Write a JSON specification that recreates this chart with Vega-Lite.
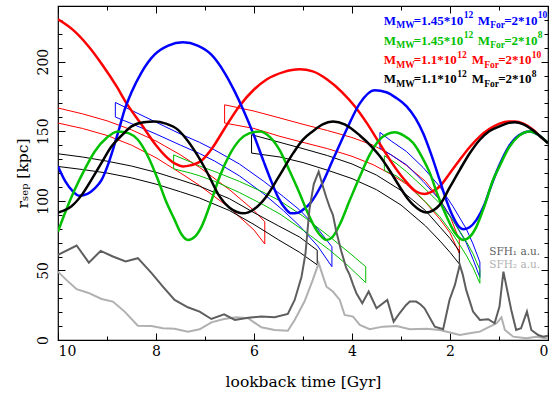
{
"$schema": "https://vega.github.io/schema/vega-lite/v6.json",
"width": 490, "height": 334,
"autosize": {"type": "none"},
"padding": {"left": 58, "top": 6, "right": 9, "bottom": 57},
"config": {
  "view": {"stroke": "black", "strokeWidth": 1.2},
  "axis": {"tickColor": "black", "labelColor": "black", "titleColor": "black", "labelFont": "DejaVu Serif", "titleFont": "DejaVu Serif", "labelFontSize": 14, "titleFontSize": 15.5, "titleFontWeight": "normal", "tickWidth": 1, "grid": false, "domain": false}
},
"resolve": {"axis": {"x": "independent", "y": "independent"}},
"datasets": {
"thick": [
{"c":"red","t":10,"r":230.4},{"c":"red","t":9.7,"r":223},{"c":"red","t":9.4,"r":212},{"c":"red","t":9.1,"r":198},{"c":"red","t":8.8,"r":182},{"c":"red","t":8.6,"r":170},{"c":"red","t":8.3,"r":155},{"c":"red","t":8.0,"r":140},{"c":"red","t":7.8,"r":132},{"c":"red","t":7.6,"r":126.5},{"c":"red","t":7.45,"r":124.7},{"c":"red","t":7.3,"r":125.5},{"c":"red","t":7.07,"r":129},{"c":"red","t":6.85,"r":138},{"c":"red","t":6.6,"r":152},{"c":"red","t":6.3,"r":168},{"c":"red","t":6.0,"r":180},{"c":"red","t":5.75,"r":187},{"c":"red","t":5.4,"r":192.5},{"c":"red","t":5.07,"r":194.5},{"c":"red","t":4.8,"r":193},{"c":"red","t":4.5,"r":187},{"c":"red","t":4.2,"r":178},{"c":"red","t":3.94,"r":167.8},{"c":"red","t":3.7,"r":156},{"c":"red","t":3.45,"r":142},{"c":"red","t":3.2,"r":128},{"c":"red","t":2.95,"r":116},{"c":"red","t":2.69,"r":106.7},{"c":"red","t":2.52,"r":105},{"c":"red","t":2.35,"r":107},{"c":"red","t":2.21,"r":110.3},{"c":"red","t":2.0,"r":120},{"c":"red","t":1.8,"r":129.5},{"c":"red","t":1.6,"r":138.5},{"c":"red","t":1.39,"r":146.3},{"c":"red","t":1.2,"r":151.5},{"c":"red","t":0.99,"r":155.5},{"c":"red","t":0.8,"r":157},{"c":"red","t":0.68,"r":157},{"c":"red","t":0.5,"r":155.5},{"c":"red","t":0.3,"r":151},{"c":"red","t":0.15,"r":146},{"c":"red","t":0,"r":141.5},
{"c":"blue","t":10,"r":124.7},{"c":"blue","t":9.85,"r":114},{"c":"blue","t":9.7,"r":107},{"c":"blue","t":9.56,"r":103.6},{"c":"blue","t":9.4,"r":105},{"c":"blue","t":9.25,"r":109},{"c":"blue","t":9.11,"r":115},{"c":"blue","t":9.0,"r":124},{"c":"blue","t":8.88,"r":136.7},{"c":"blue","t":8.75,"r":152},{"c":"blue","t":8.64,"r":165.5},{"c":"blue","t":8.5,"r":178},{"c":"blue","t":8.3,"r":192},{"c":"blue","t":8.03,"r":205},{"c":"blue","t":7.75,"r":211.5},{"c":"blue","t":7.45,"r":213.9},{"c":"blue","t":7.15,"r":211.5},{"c":"blue","t":6.87,"r":205},{"c":"blue","t":6.6,"r":192},{"c":"blue","t":6.4,"r":179},{"c":"blue","t":6.22,"r":165.5},{"c":"blue","t":6.0,"r":147},{"c":"blue","t":5.8,"r":128},{"c":"blue","t":5.68,"r":117},{"c":"blue","t":5.5,"r":102},{"c":"blue","t":5.35,"r":94},{"c":"blue","t":5.24,"r":91},{"c":"blue","t":5.1,"r":91.5},{"c":"blue","t":4.95,"r":95},{"c":"blue","t":4.86,"r":98},{"c":"blue","t":4.6,"r":113},{"c":"blue","t":4.39,"r":129.5},{"c":"blue","t":4.1,"r":152},{"c":"blue","t":3.84,"r":170},{"c":"blue","t":3.54,"r":179.4},{"c":"blue","t":3.3,"r":178},{"c":"blue","t":3.1,"r":174},{"c":"blue","t":2.89,"r":168},{"c":"blue","t":2.7,"r":159},{"c":"blue","t":2.55,"r":148.7},{"c":"blue","t":2.4,"r":135},{"c":"blue","t":2.21,"r":115},{"c":"blue","t":2.07,"r":100},{"c":"blue","t":1.94,"r":88.7},{"c":"blue","t":1.82,"r":81.5},{"c":"blue","t":1.72,"r":79.6},{"c":"blue","t":1.6,"r":81},{"c":"blue","t":1.46,"r":86.3},{"c":"blue","t":1.3,"r":97},{"c":"blue","t":1.19,"r":107.9},{"c":"blue","t":1.0,"r":125},{"c":"blue","t":0.8,"r":139},{"c":"blue","t":0.6,"r":147},{"c":"blue","t":0.37,"r":149.9},{"c":"blue","t":0.2,"r":147.5},{"c":"blue","t":0,"r":141.5},
{"c":"green","t":10,"r":77.9},{"c":"green","t":9.85,"r":92},{"c":"green","t":9.66,"r":107.9},{"c":"green","t":9.45,"r":123},{"c":"green","t":9.25,"r":135.5},{"c":"green","t":9.0,"r":145.5},{"c":"green","t":8.78,"r":149.9},{"c":"green","t":8.55,"r":148.5},{"c":"green","t":8.37,"r":143.9},{"c":"green","t":8.15,"r":131},{"c":"green","t":7.96,"r":115.1},{"c":"green","t":7.8,"r":100},{"c":"green","t":7.62,"r":86.3},{"c":"green","t":7.48,"r":76},{"c":"green","t":7.35,"r":71.9},{"c":"green","t":7.2,"r":74.5},{"c":"green","t":7.07,"r":81.5},{"c":"green","t":6.9,"r":97},{"c":"green","t":6.7,"r":117.5},{"c":"green","t":6.5,"r":133},{"c":"green","t":6.29,"r":143.9},{"c":"green","t":6.1,"r":148.5},{"c":"green","t":5.88,"r":149.9},{"c":"green","t":5.68,"r":146},{"c":"green","t":5.48,"r":136.7},{"c":"green","t":5.28,"r":122},{"c":"green","t":5.07,"r":105.5},{"c":"green","t":4.9,"r":91},{"c":"green","t":4.73,"r":79.1},{"c":"green","t":4.6,"r":73.5},{"c":"green","t":4.52,"r":71.9},{"c":"green","t":4.4,"r":74},{"c":"green","t":4.25,"r":83},{"c":"green","t":4.05,"r":100},{"c":"green","t":3.84,"r":117.5},{"c":"green","t":3.64,"r":133},{"c":"green","t":3.44,"r":143.9},{"c":"green","t":3.28,"r":148},{"c":"green","t":3.13,"r":149.2},{"c":"green","t":2.95,"r":147},{"c":"green","t":2.75,"r":141.5},{"c":"green","t":2.58,"r":132},{"c":"green","t":2.41,"r":119.9},{"c":"green","t":2.25,"r":104},{"c":"green","t":2.07,"r":88.7},{"c":"green","t":1.9,"r":77},{"c":"green","t":1.73,"r":71.9},{"c":"green","t":1.6,"r":74},{"c":"green","t":1.46,"r":81.5},{"c":"green","t":1.3,"r":96},{"c":"green","t":1.12,"r":115.1},{"c":"green","t":0.99,"r":124.7},{"c":"green","t":0.8,"r":138},{"c":"green","t":0.6,"r":146.5},{"c":"green","t":0.37,"r":149.9},{"c":"green","t":0.2,"r":147.5},{"c":"green","t":0,"r":141.5},
{"c":"black","t":10,"r":91.6},{"c":"black","t":9.85,"r":93.5},{"c":"black","t":9.73,"r":96},{"c":"black","t":9.5,"r":105},{"c":"black","t":9.32,"r":115},{"c":"black","t":9.1,"r":128},{"c":"black","t":8.91,"r":139},{"c":"black","t":8.7,"r":147},{"c":"black","t":8.5,"r":153.5},{"c":"black","t":8.25,"r":156.5},{"c":"black","t":8.03,"r":157},{"c":"black","t":7.8,"r":155.5},{"c":"black","t":7.55,"r":151},{"c":"black","t":7.35,"r":143},{"c":"black","t":7.14,"r":131.9},{"c":"black","t":6.95,"r":120},{"c":"black","t":6.7,"r":103},{"c":"black","t":6.5,"r":95},{"c":"black","t":6.35,"r":92},{"c":"black","t":6.22,"r":91},{"c":"black","t":6.0,"r":94},{"c":"black","t":5.75,"r":103},{"c":"black","t":5.5,"r":117},{"c":"black","t":5.2,"r":134.3},{"c":"black","t":5.0,"r":144},{"c":"black","t":4.8,"r":150},{"c":"black","t":4.6,"r":155},{"c":"black","t":4.39,"r":157},{"c":"black","t":4.15,"r":155},{"c":"black","t":3.84,"r":147},{"c":"black","t":3.6,"r":139},{"c":"black","t":3.43,"r":132},{"c":"black","t":3.2,"r":120},{"c":"black","t":3.03,"r":110.3},{"c":"black","t":2.85,"r":101},{"c":"black","t":2.75,"r":97.1},{"c":"black","t":2.6,"r":93},{"c":"black","t":2.48,"r":91.6},{"c":"black","t":2.35,"r":93},{"c":"black","t":2.21,"r":97.1},{"c":"black","t":2.0,"r":110},{"c":"black","t":1.8,"r":122.3},{"c":"black","t":1.6,"r":134},{"c":"black","t":1.39,"r":143.9},{"c":"black","t":1.2,"r":150},{"c":"black","t":0.99,"r":153.5},{"c":"black","t":0.8,"r":156},{"c":"black","t":0.68,"r":156.5},{"c":"black","t":0.5,"r":155},{"c":"black","t":0.3,"r":150.5},{"c":"black","t":0.15,"r":146},{"c":"black","t":0,"r":141.5}
],
"thin": [
{"c":"red","s":"R1","t":10,"r":166.7},{"c":"red","s":"R1","t":9.5,"r":162.5},{"c":"red","s":"R1","t":9,"r":157.5},{"c":"red","s":"R1","t":8.5,"r":151},{"c":"red","s":"R1","t":8,"r":143},{"c":"red","s":"R1","t":7.5,"r":133},{"c":"red","s":"R1","t":7.11,"r":124},{"c":"red","s":"R1","t":6.5,"r":108},{"c":"red","s":"R1","t":6,"r":93},{"c":"red","s":"R1","t":5.78,"r":85},{"c":"red","s":"R1","t":5.78,"r":69},{"c":"red","s":"R1","t":6,"r":79},{"c":"red","s":"R1","t":6.5,"r":95},{"c":"red","s":"R1","t":7.11,"r":111},{"c":"red","s":"R1","t":7.5,"r":120},{"c":"red","s":"R1","t":8,"r":131},{"c":"red","s":"R1","t":8.5,"r":140},{"c":"red","s":"R1","t":9,"r":147},{"c":"red","s":"R1","t":9.5,"r":152},{"c":"red","s":"R1","t":10,"r":155.9},
{"c":"red","s":"R2","t":6.6,"r":169},{"c":"red","s":"R2","t":6.0,"r":164.5},{"c":"red","s":"R2","t":5.47,"r":159.5},{"c":"red","s":"R2","t":5.0,"r":155},{"c":"red","s":"R2","t":4.5,"r":150.5},{"c":"red","s":"R2","t":4.0,"r":145.5},{"c":"red","s":"R2","t":3.57,"r":140},{"c":"red","s":"R2","t":3.2,"r":133},{"c":"red","s":"R2","t":2.89,"r":125.5},{"c":"red","s":"R2","t":2.5,"r":114},{"c":"red","s":"R2","t":2.21,"r":101},{"c":"red","s":"R2","t":2.0,"r":89},{"c":"red","s":"R2","t":1.81,"r":72},{"c":"red","s":"R2","t":1.81,"r":62.4},{"c":"red","s":"R2","t":2.0,"r":77},{"c":"red","s":"R2","t":2.21,"r":87},{"c":"red","s":"R2","t":2.5,"r":99},{"c":"red","s":"R2","t":2.89,"r":112},{"c":"red","s":"R2","t":3.2,"r":119},{"c":"red","s":"R2","t":3.57,"r":126},{"c":"red","s":"R2","t":4.0,"r":132},{"c":"red","s":"R2","t":4.5,"r":137.5},{"c":"red","s":"R2","t":5.0,"r":142},{"c":"red","s":"R2","t":5.47,"r":146.3},{"c":"red","s":"R2","t":6.0,"r":152},{"c":"red","s":"R2","t":6.6,"r":155.9},{"c":"red","s":"R2","t":6.6,"r":169},
{"c":"black","s":"K1","t":10,"r":133.8},{"c":"black","s":"K1","t":9.5,"r":131.5},{"c":"black","s":"K1","t":9,"r":128.5},{"c":"black","s":"K1","t":8.5,"r":125},{"c":"black","s":"K1","t":8,"r":120.5},{"c":"black","s":"K1","t":7.5,"r":115},{"c":"black","s":"K1","t":7.11,"r":110.5},{"c":"black","s":"K1","t":6.5,"r":101.5},{"c":"black","s":"K1","t":6,"r":91.5},{"c":"black","s":"K1","t":5.5,"r":82},{"c":"black","s":"K1","t":5.07,"r":74},{"c":"black","s":"K1","t":4.71,"r":64.5},{"c":"black","s":"K1","t":4.71,"r":54},{"c":"black","s":"K1","t":5.07,"r":63},{"c":"black","s":"K1","t":5.5,"r":72},{"c":"black","s":"K1","t":6,"r":83},{"c":"black","s":"K1","t":6.5,"r":93},{"c":"black","s":"K1","t":7.11,"r":102},{"c":"black","s":"K1","t":7.5,"r":106.5},{"c":"black","s":"K1","t":8,"r":112},{"c":"black","s":"K1","t":8.5,"r":116.5},{"c":"black","s":"K1","t":9,"r":120},{"c":"black","s":"K1","t":9.5,"r":122.5},{"c":"black","s":"K1","t":10,"r":124.7},
{"c":"black","s":"K2","t":6.05,"r":147.5},{"c":"black","s":"K2","t":5.47,"r":142},{"c":"black","s":"K2","t":5.0,"r":137.5},{"c":"black","s":"K2","t":4.5,"r":132.5},{"c":"black","s":"K2","t":4.0,"r":126.5},{"c":"black","s":"K2","t":3.5,"r":118.5},{"c":"black","s":"K2","t":3.0,"r":107.5},{"c":"black","s":"K2","t":2.5,"r":93},{"c":"black","s":"K2","t":2.2,"r":81},{"c":"black","s":"K2","t":2.0,"r":73},{"c":"black","s":"K2","t":1.81,"r":64},{"c":"black","s":"K2","t":1.81,"r":54.7},{"c":"black","s":"K2","t":2.0,"r":63},{"c":"black","s":"K2","t":2.2,"r":71},{"c":"black","s":"K2","t":2.5,"r":82},{"c":"black","s":"K2","t":3.0,"r":97},{"c":"black","s":"K2","t":3.5,"r":108},{"c":"black","s":"K2","t":4.0,"r":116},{"c":"black","s":"K2","t":4.5,"r":122},{"c":"black","s":"K2","t":5.0,"r":127.5},{"c":"black","s":"K2","t":5.47,"r":131.5},{"c":"black","s":"K2","t":6.05,"r":134.3},{"c":"black","s":"K2","t":6.05,"r":147.5},
{"c":"blue","s":"B1","t":8.83,"r":170.7},{"c":"blue","s":"B1","t":8.5,"r":165},{"c":"blue","s":"B1","t":8,"r":156.5},{"c":"blue","s":"B1","t":7.5,"r":148},{"c":"blue","s":"B1","t":7.11,"r":142},{"c":"blue","s":"B1","t":6.8,"r":136.5},{"c":"blue","s":"B1","t":6.3,"r":126.5},{"c":"blue","s":"B1","t":5.8,"r":114},{"c":"blue","s":"B1","t":5.4,"r":103},{"c":"blue","s":"B1","t":5.07,"r":93.5},{"c":"blue","s":"B1","t":4.7,"r":80},{"c":"blue","s":"B1","t":4.41,"r":67},{"c":"blue","s":"B1","t":4.41,"r":52.7},{"c":"blue","s":"B1","t":4.7,"r":67.5},{"c":"blue","s":"B1","t":5.07,"r":82},{"c":"blue","s":"B1","t":5.4,"r":93},{"c":"blue","s":"B1","t":5.8,"r":105},{"c":"blue","s":"B1","t":6.3,"r":118},{"c":"blue","s":"B1","t":6.8,"r":128.5},{"c":"blue","s":"B1","t":7.11,"r":134},{"c":"blue","s":"B1","t":7.5,"r":140},{"c":"blue","s":"B1","t":8,"r":148},{"c":"blue","s":"B1","t":8.5,"r":155.5},{"c":"blue","s":"B1","t":8.83,"r":160.2},{"c":"blue","s":"B1","t":8.83,"r":170.7},
{"c":"green","s":"G1","t":7.64,"r":133},{"c":"green","s":"G1","t":7.3,"r":128},{"c":"green","s":"G1","t":7.11,"r":125},{"c":"green","s":"G1","t":6.8,"r":121},{"c":"green","s":"G1","t":6.3,"r":114},{"c":"green","s":"G1","t":5.8,"r":106},{"c":"green","s":"G1","t":5.47,"r":100},{"c":"green","s":"G1","t":5.0,"r":89},{"c":"green","s":"G1","t":4.46,"r":74.3},{"c":"green","s":"G1","t":4.1,"r":64},{"c":"green","s":"G1","t":3.72,"r":52.7},{"c":"green","s":"G1","t":3.72,"r":41.2},{"c":"green","s":"G1","t":4.1,"r":54},{"c":"green","s":"G1","t":4.46,"r":64.7},{"c":"green","s":"G1","t":5.0,"r":79},{"c":"green","s":"G1","t":5.47,"r":90.5},{"c":"green","s":"G1","t":5.8,"r":97},{"c":"green","s":"G1","t":6.3,"r":106},{"c":"green","s":"G1","t":6.8,"r":114},{"c":"green","s":"G1","t":7.11,"r":118},{"c":"green","s":"G1","t":7.3,"r":120},{"c":"green","s":"G1","t":7.64,"r":123},{"c":"green","s":"G1","t":7.64,"r":133},
{"c":"blue","s":"B2","t":3.43,"r":149.2},{"c":"blue","s":"B2","t":3.2,"r":143},{"c":"blue","s":"B2","t":2.89,"r":135.5},{"c":"blue","s":"B2","t":2.55,"r":124},{"c":"blue","s":"B2","t":2.21,"r":110.3},{"c":"blue","s":"B2","t":1.94,"r":96},{"c":"blue","s":"B2","t":1.67,"r":80},{"c":"blue","s":"B2","t":1.53,"r":69},{"c":"blue","s":"B2","t":1.39,"r":56},{"c":"blue","s":"B2","t":1.39,"r":45},{"c":"blue","s":"B2","t":1.53,"r":58},{"c":"blue","s":"B2","t":1.67,"r":70},{"c":"blue","s":"B2","t":1.94,"r":86},{"c":"blue","s":"B2","t":2.21,"r":100.7},{"c":"blue","s":"B2","t":2.55,"r":114},{"c":"blue","s":"B2","t":2.89,"r":125.9},{"c":"blue","s":"B2","t":3.2,"r":133},{"c":"blue","s":"B2","t":3.43,"r":138},{"c":"blue","s":"B2","t":3.43,"r":149.2},
{"c":"green","s":"G2","t":3.34,"r":132.4},{"c":"green","s":"G2","t":3.1,"r":127},{"c":"green","s":"G2","t":2.89,"r":121},{"c":"green","s":"G2","t":2.55,"r":110},{"c":"green","s":"G2","t":2.21,"r":98.3},{"c":"green","s":"G2","t":1.94,"r":86},{"c":"green","s":"G2","t":1.67,"r":71},{"c":"green","s":"G2","t":1.53,"r":62},{"c":"green","s":"G2","t":1.39,"r":50.4},{"c":"green","s":"G2","t":1.39,"r":40.8},{"c":"green","s":"G2","t":1.53,"r":52},{"c":"green","s":"G2","t":1.67,"r":61},{"c":"green","s":"G2","t":1.94,"r":76},{"c":"green","s":"G2","t":2.21,"r":88.7},{"c":"green","s":"G2","t":2.55,"r":101},{"c":"green","s":"G2","t":2.89,"r":112.7},{"c":"green","s":"G2","t":3.1,"r":118},{"c":"green","s":"G2","t":3.34,"r":121.8},{"c":"green","s":"G2","t":3.34,"r":132.4}
],
"sfh": [
{"c":"sfh2","t":10,"r":49.1},{"c":"sfh2","t":9.83,"r":43.2},{"c":"sfh2","t":9.62,"r":36.5},{"c":"sfh2","t":9.39,"r":34},{"c":"sfh2","t":9.11,"r":29.5},{"c":"sfh2","t":8.88,"r":27.6},{"c":"sfh2","t":8.64,"r":20.4},{"c":"sfh2","t":8.37,"r":10.3},{"c":"sfh2","t":8.09,"r":10.1},{"c":"sfh2","t":7.86,"r":8.4},{"c":"sfh2","t":7.62,"r":8.1},{"c":"sfh2","t":7.35,"r":6},{"c":"sfh2","t":7.11,"r":7.7},{"c":"sfh2","t":6.87,"r":12.7},{"c":"sfh2","t":6.61,"r":15.1},{"c":"sfh2","t":6.36,"r":16.3},{"c":"sfh2","t":6.12,"r":15.6},{"c":"sfh2","t":5.85,"r":9.1},{"c":"sfh2","t":5.58,"r":7.2},{"c":"sfh2","t":5.31,"r":6.7},{"c":"sfh2","t":5.17,"r":14.4},{"c":"sfh2","t":4.97,"r":27.6},{"c":"sfh2","t":4.8,"r":43.2},{"c":"sfh2","t":4.68,"r":55.2},{"c":"sfh2","t":4.59,"r":45.5},{"c":"sfh2","t":4.52,"r":38.3},{"c":"sfh2","t":4.39,"r":34.8},{"c":"sfh2","t":4.25,"r":28.8},{"c":"sfh2","t":4.15,"r":18},{"c":"sfh2","t":3.98,"r":16.8},{"c":"sfh2","t":3.84,"r":10.8},{"c":"sfh2","t":3.64,"r":7.7},{"c":"sfh2","t":3.37,"r":9.6},{"c":"sfh2","t":3.09,"r":10.1},{"c":"sfh2","t":2.82,"r":7.7},{"c":"sfh2","t":2.48,"r":8.1},{"c":"sfh2","t":2.21,"r":7.2},{"c":"sfh2","t":1.94,"r":4.8},{"c":"sfh2","t":1.8,"r":3.6},{"c":"sfh2","t":1.6,"r":4.8},{"c":"sfh2","t":1.39,"r":6},{"c":"sfh2","t":1.19,"r":9.6},{"c":"sfh2","t":1.05,"r":12},{"c":"sfh2","t":0.95,"r":16.3},{"c":"sfh2","t":0.88,"r":7.2},{"c":"sfh2","t":0.71,"r":2.4},{"c":"sfh2","t":0.44,"r":1.2},{"c":"sfh2","t":0.24,"r":2.4},{"c":"sfh2","t":0,"r":1},
{"c":"sfh1","t":10,"r":61.2},{"c":"sfh1","t":9.62,"r":67.9},{"c":"sfh1","t":9.37,"r":55.6},{"c":"sfh1","t":9.13,"r":64},{"c":"sfh1","t":8.88,"r":60},{"c":"sfh1","t":8.62,"r":56.4},{"c":"sfh1","t":8.37,"r":58.8},{"c":"sfh1","t":8.09,"r":48},{"c":"sfh1","t":7.86,"r":38.4},{"c":"sfh1","t":7.62,"r":28.8},{"c":"sfh1","t":7.35,"r":23.5},{"c":"sfh1","t":7.11,"r":20.4},{"c":"sfh1","t":6.87,"r":15.1},{"c":"sfh1","t":6.61,"r":18.5},{"c":"sfh1","t":6.39,"r":14.4},{"c":"sfh1","t":6.12,"r":16},{"c":"sfh1","t":5.85,"r":16.8},{"c":"sfh1","t":5.58,"r":16.3},{"c":"sfh1","t":5.31,"r":18.7},{"c":"sfh1","t":5.17,"r":28.8},{"c":"sfh1","t":5.03,"r":45.5},{"c":"sfh1","t":4.95,"r":62},{"c":"sfh1","t":4.87,"r":93.5},{"c":"sfh1","t":4.78,"r":112},{"c":"sfh1","t":4.68,"r":121},{"c":"sfh1","t":4.59,"r":110},{"c":"sfh1","t":4.52,"r":102},{"c":"sfh1","t":4.45,"r":95},{"c":"sfh1","t":4.39,"r":90},{"c":"sfh1","t":4.32,"r":78},{"c":"sfh1","t":4.22,"r":64},{"c":"sfh1","t":4.12,"r":52},{"c":"sfh1","t":4.05,"r":47},{"c":"sfh1","t":3.98,"r":40},{"c":"sfh1","t":3.91,"r":33.5},{"c":"sfh1","t":3.79,"r":26.4},{"c":"sfh1","t":3.66,"r":34.8},{"c":"sfh1","t":3.5,"r":22.8},{"c":"sfh1","t":3.28,"r":28.8},{"c":"sfh1","t":3.15,"r":13.2},{"c":"sfh1","t":3.03,"r":19.2},{"c":"sfh1","t":2.9,"r":25},{"c":"sfh1","t":2.82,"r":27.6},{"c":"sfh1","t":2.69,"r":27.6},{"c":"sfh1","t":2.6,"r":25.5},{"c":"sfh1","t":2.52,"r":22.8},{"c":"sfh1","t":2.31,"r":9.6},{"c":"sfh1","t":2.14,"r":7.7},{"c":"sfh1","t":2.01,"r":28.8},{"c":"sfh1","t":1.9,"r":39.6},{"c":"sfh1","t":1.8,"r":54},{"c":"sfh1","t":1.74,"r":47},{"c":"sfh1","t":1.67,"r":36},{"c":"sfh1","t":1.53,"r":20.4},{"c":"sfh1","t":1.39,"r":14.4},{"c":"sfh1","t":1.22,"r":14.9},{"c":"sfh1","t":1.09,"r":12},{"c":"sfh1","t":0.99,"r":24},{"c":"sfh1","t":0.91,"r":49.1},{"c":"sfh1","t":0.82,"r":33.6},{"c":"sfh1","t":0.75,"r":21.6},{"c":"sfh1","t":0.65,"r":7.2},{"c":"sfh1","t":0.55,"r":8.4},{"c":"sfh1","t":0.43,"r":20.4},{"c":"sfh1","t":0.34,"r":7.2},{"c":"sfh1","t":0.2,"r":3.6},{"c":"sfh1","t":0.1,"r":2.4},{"c":"sfh1","t":0,"r":3}
],
"leg": [
{"c":"blue","k":"main","txt":"M","t":3.353,"r":226.3},{"c":"blue","k":"sub","txt":"MW","t":3.098,"r":223.9},{"c":"blue","k":"main","txt":"=1.45*10","t":2.741,"r":226.3},{"c":"blue","k":"sup","txt":"12","t":1.72,"r":231.1},{"c":"blue","k":"main","txt":"M","t":1.435,"r":226.3},{"c":"blue","k":"sub","txt":"For","t":1.18,"r":223.9},{"c":"blue","k":"main","txt":"=2*10","t":0.894,"r":226.3},{"c":"blue","k":"sup","txt":"10","t":0.21,"r":231.1},
{"c":"green","k":"main","txt":"M","t":3.353,"r":212.3},{"c":"green","k":"sub","txt":"MW","t":3.098,"r":209.9},{"c":"green","k":"main","txt":"=1.45*10","t":2.741,"r":212.3},{"c":"green","k":"sup","txt":"12","t":1.72,"r":217.1},{"c":"green","k":"main","txt":"M","t":1.435,"r":212.3},{"c":"green","k":"sub","txt":"For","t":1.18,"r":209.9},{"c":"green","k":"main","txt":"=2*10","t":0.894,"r":212.3},{"c":"green","k":"sup","txt":"8","t":0.21,"r":217.1},
{"c":"red","k":"main","txt":"M","t":3.353,"r":198.1},{"c":"red","k":"sub","txt":"MW","t":3.098,"r":195.7},{"c":"red","k":"main","txt":"=1.1*10","t":2.741,"r":198.1},{"c":"red","k":"sup","txt":"12","t":1.853,"r":202.9},{"c":"red","k":"main","txt":"M","t":1.557,"r":198.1},{"c":"red","k":"sub","txt":"For","t":1.302,"r":195.7},{"c":"red","k":"main","txt":"=2*10","t":1.016,"r":198.1},{"c":"red","k":"sup","txt":"10","t":0.333,"r":202.9},
{"c":"black","k":"main","txt":"M","t":3.353,"r":184.5},{"c":"black","k":"sub","txt":"MW","t":3.098,"r":182.1},{"c":"black","k":"main","txt":"=1.1*10","t":2.741,"r":184.5},{"c":"black","k":"sup","txt":"12","t":1.853,"r":189.3},{"c":"black","k":"main","txt":"M","t":1.557,"r":184.5},{"c":"black","k":"sub","txt":"For","t":1.302,"r":182.1},{"c":"black","k":"main","txt":"=2*10","t":1.016,"r":184.5},{"c":"black","k":"sup","txt":"8","t":0.333,"r":189.3}
],
"sfhlab": [
{"c":"sfh1","txt":"SFH₁ a.u.","t":1.2,"r":61.1},
{"c":"sfh2","txt":"SFH₂ a.u.","t":1.2,"r":51.8}
]
},
"layer": [
{
 "data": {"name": "thin"},
 "mark": {"type": "line", "strokeWidth": 1, "clip": true},
 "encoding": {
  "x": {"field": "t", "type": "quantitative", "scale": {"domain": [0, 10], "reverse": true, "nice": false, "zero": false}, "axis": {"orient": "bottom", "values": [0,1,2,3,4,5,6,7,8,9,10], "tickSize": -4, "labels": false, "title": null}},
  "y": {"field": "r", "type": "quantitative", "scale": {"domain": [0, 240], "nice": false}, "axis": {"orient": "left", "values": [0,10,20,30,40,50,60,70,80,90,100,110,120,130,140,150,160,170,180,190,200,210,220,230,240], "tickSize": -4, "labels": false, "title": null}},
  "color": {"field": "c", "type": "nominal", "scale": {"domain": ["blue","green","red","black","sfh1","sfh2"], "range": ["#0000ff","#00c000","#ff0000","#000000","#5e5e5e","#b0b0b0"]}, "legend": null},
  "detail": {"field": "s"},
  "order": {"value": null}
 }
},
{
 "data": {"name": "thick"},
 "mark": {"type": "line", "strokeWidth": 2.5, "interpolate": "monotone", "clip": true},
 "encoding": {
  "x": {"field": "t", "type": "quantitative", "axis": {"orient": "bottom", "values": [0,2,4,6,8,10], "tickSize": -7, "labelPadding": 11, "title": "lookback time [Gyr]", "titlePadding": 16}},
  "y": {"field": "r", "type": "quantitative", "axis": {"orient": "left", "values": [0,50,100,150,200], "tickSize": -7, "labelAngle": -90, "labelPadding": 15, "title": "rₛₑₚ [kpc]", "titlePadding": 6}},
  "color": {"field": "c", "type": "nominal", "legend": null},
  "detail": {"field": "c"}
 }
},
{
 "data": {"name": "sfh"},
 "mark": {"type": "line", "strokeWidth": 2, "clip": true},
 "encoding": {
  "x": {"field": "t", "type": "quantitative", "axis": {"orient": "top", "values": [0,2,4,6,8,10], "tickSize": -7, "labels": false, "title": null}},
  "y": {"field": "r", "type": "quantitative", "axis": {"orient": "right", "values": [0,50,100,150,200], "tickSize": -7, "labels": false, "title": null}},
  "color": {"field": "c", "type": "nominal", "legend": null},
  "order": {"value": null}
 }
},
{
 "data": {"name": "leg"},
 "transform": [{"filter": "datum.k == 'main'"}],
 "mark": {"type": "text", "align": "left", "baseline": "alphabetic", "font": "Liberation Serif", "fontWeight": "bold", "fontSize": 13},
 "encoding": {
  "x": {"field": "t", "type": "quantitative", "axis": {"orient": "top", "values": [0,1,2,3,4,5,6,7,8,9,10], "tickSize": -4, "labels": false, "title": null}},
  "y": {"field": "r", "type": "quantitative", "axis": {"orient": "right", "values": [0,10,20,30,40,50,60,70,80,90,100,110,120,130,140,150,160,170,180,190,200,210,220,230,240], "tickSize": -4, "labels": false, "title": null}},
  "color": {"field": "c", "type": "nominal", "legend": null},
  "text": {"field": "txt"}
 }
},
{
 "data": {"name": "leg"},
 "transform": [{"filter": "datum.k != 'main'"}],
 "mark": {"type": "text", "align": "left", "baseline": "alphabetic", "font": "Liberation Serif", "fontWeight": "bold", "fontSize": 9.5},
 "encoding": {
  "x": {"field": "t", "type": "quantitative", "axis": null},
  "y": {"field": "r", "type": "quantitative", "axis": null},
  "color": {"field": "c", "type": "nominal", "legend": null},
  "text": {"field": "txt"}
 }
},
{
 "data": {"name": "sfhlab"},
 "mark": {"type": "text", "align": "left", "baseline": "alphabetic", "font": "DejaVu Serif", "fontSize": 10.5},
 "encoding": {
  "x": {"field": "t", "type": "quantitative", "axis": null},
  "y": {"field": "r", "type": "quantitative", "axis": null},
  "color": {"field": "c", "type": "nominal", "legend": null},
  "text": {"field": "txt"}
 }
}
]
}
